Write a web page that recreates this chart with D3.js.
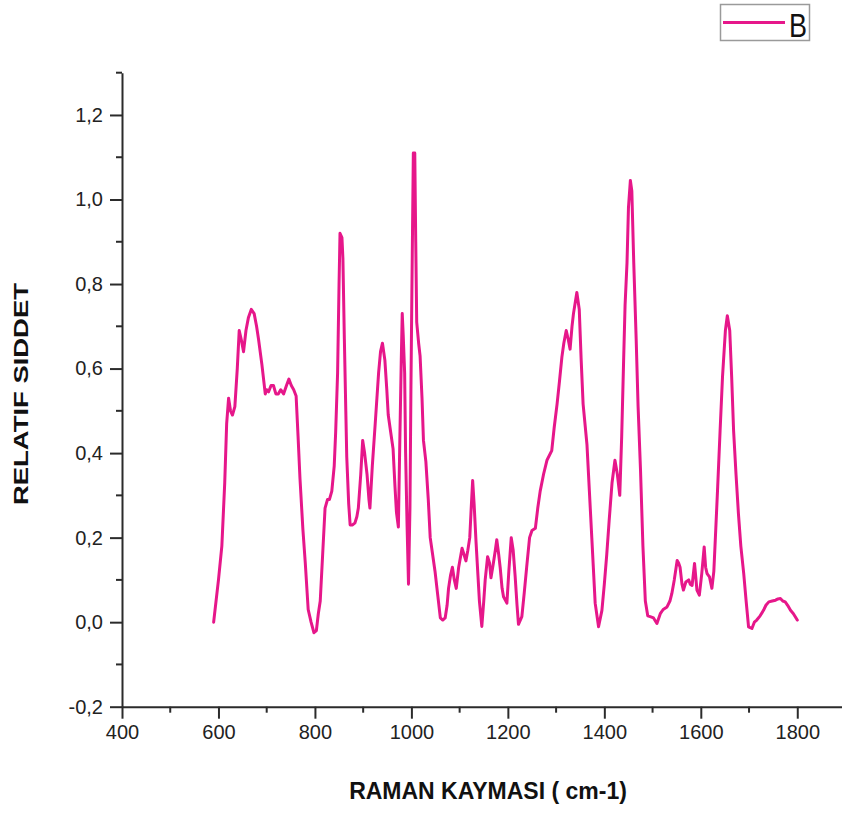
<!DOCTYPE html>
<html>
<head>
<meta charset="utf-8">
<script src="https://cdn.jsdelivr.net/npm/d3@7/dist/d3.min.js"></script>
<style>
  html, body { margin: 0; padding: 0; background: #fff; }
  svg { display: block; }
  text { font-family: Arial, "Liberation Sans", sans-serif; }
</style>
</head>
<body>
<svg id="chart" width="842" height="814"></svg>
<script>
// ---- data ----
const seriesName = "B";
const ramanShift = [
  590,600,607,613,617,621,625,629,634,639,643,647,652,657,662,668,674,679,683,690,
  697,700,704,709,714,719,724,729,735,741,746,751,756,761,765,769,775,780,786,792,
  798,803,807,811,816,821,826,830,835,840,843,847,850,852,856,858,861,864,866,870,
  873,878,883,887,890,895,899,903,908,912,914,919,925,932,936,940,945,949,952,957,
  962,966,969,973,976,979,981,983,986,988,991,994,997,999,1001,1003,1004,1007,1009,1011,
  1015,1018,1022,1025,1030,1035,1039,1044,1049,1054,1060,1065,1070,1074,1077,1081,1085,1089,1093,1098,
  1105,1109,1113,1117,1121,1124,1127,1130,1134,1138,1141,1146,1150,1153,1158,1162,1165,1170,1174,1177,
  1181,1184,1188,1191,1198,1202,1207,1211,1215,1219,1222,1229,1234,1239,1245,1250,1257,1262,1267,1274,
  1281,1291,1296,1302,1307,1312,1316,1321,1325,1329,1333,1336,1343,1348,1352,1356,1364,1369,1374,1381,
  1388,1395,1400,1405,1410,1416,1422,1427,1432,1436,1440,1443,1447,1450,1454,1457,1461,1466,1470,1475,
  1480,1485,1490,1495,1502,1509,1516,1522,1530,1536,1540,1545,1551,1554,1557,1561,1564,1569,1575,1578,
  1582,1587,1592,1597,1602,1607,1610,1613,1618,1623,1627,1630,1635,1640,1645,1651,1655,1660,1664,1668,
  1673,1678,1683,1689,1694,1699,1706,1711,1716,1723,1730,1735,1741,1748,1755,1760,1765,1770,1775,1780,
  1786,1792,1800
];
const intensity = [
  0.00,0.10,0.18,0.33,0.47,0.53,0.50,0.49,0.51,0.60,0.69,0.67,0.64,0.69,0.72,0.74,0.73,0.70,0.67,0.61,
  0.54,0.55,0.545,0.56,0.56,0.54,0.54,0.55,0.54,0.56,0.575,0.56,0.55,0.535,0.44,0.34,0.22,0.14,0.03,0.00,
  -0.025,-0.02,0.02,0.05,0.16,0.27,0.29,0.29,0.31,0.37,0.45,0.59,0.80,0.92,0.91,0.86,0.67,0.50,0.39,0.28,
  0.23,0.23,0.235,0.25,0.27,0.35,0.43,0.40,0.35,0.29,0.27,0.37,0.47,0.59,0.64,0.66,0.62,0.55,0.49,0.45,
  0.41,0.32,0.26,0.225,0.43,0.62,0.73,0.68,0.59,0.40,0.23,0.09,0.27,0.55,0.78,1.00,1.11,1.11,0.90,0.71,
  0.66,0.63,0.53,0.43,0.38,0.29,0.20,0.16,0.12,0.07,0.01,0.005,0.01,0.04,0.08,0.11,0.13,0.10,0.08,0.13,
  0.175,0.16,0.145,0.17,0.20,0.27,0.335,0.28,0.19,0.11,0.05,-0.01,0.05,0.10,0.155,0.14,0.105,0.14,0.17,0.195,
  0.16,0.13,0.08,0.06,0.045,0.12,0.20,0.17,0.11,0.04,-0.005,0.013,0.07,0.13,0.20,0.217,0.222,0.27,0.31,0.35,
  0.383,0.406,0.46,0.516,0.57,0.627,0.66,0.69,0.67,0.646,0.70,0.73,0.78,0.74,0.62,0.516,0.42,0.31,0.20,0.045,
  -0.011,0.028,0.09,0.16,0.24,0.33,0.383,0.35,0.30,0.44,0.62,0.75,0.85,0.98,1.045,1.02,0.85,0.67,0.51,0.36,
  0.18,0.05,0.015,0.013,0.01,-0.003,0.02,0.03,0.036,0.05,0.068,0.10,0.146,0.14,0.13,0.09,0.076,0.095,0.10,0.09,
  0.087,0.139,0.076,0.064,0.115,0.178,0.13,0.115,0.107,0.08,0.12,0.194,0.32,0.453,0.58,0.69,0.725,0.69,0.58,0.453,
  0.35,0.257,0.18,0.115,0.05,-0.011,-0.015,0.0,0.005,0.015,0.028,0.04,0.048,0.05,0.052,0.055,0.056,0.05,0.048,0.04,
  0.028,0.02,0.005
];
const xTickValues = [400, 600, 800, 1000, 1200, 1400, 1600, 1800];
const xMinorTicks = [500, 700, 900, 1100, 1300, 1500, 1700];
const yTickValues = [-0.2, 0.0, 0.2, 0.4, 0.6, 0.8, 1.0, 1.2];
const yTickLabels = ["-0,2", "0,0", "0,2", "0,4", "0,6", "0,8", "1,0", "1,2"];
const yMinorTicks = [-0.1, 0.1, 0.3, 0.5, 0.7, 0.9, 1.1, 1.3];
const xTitle = "RAMAN KAYMASI ( cm-1)";
const yTitle = "RELATIF SIDDET";

// ---- layout ----
const svg = d3.select("#chart");
const plotLeft = 122, plotRight = 845.5, plotTop = 72.7, plotBottom = 706.7;
const axisColor = "#2b2b2b";
const lineColor = "#e6178a";

const x = d3.scaleLinear().domain([400, 1900]).range([plotLeft, plotRight]);
const y = d3.scaleLinear().domain([-0.2, 1.3]).range([plotBottom, plotTop]);

// X axis
const gx = svg.append("g").attr("transform", `translate(0,${plotBottom})`);
gx.call(d3.axisBottom(x).tickValues(xTickValues).tickSize(12).tickSizeOuter(0).tickPadding(6)
  .tickFormat(d3.format("d")));
gx.append("g").selectAll("line").data(xMinorTicks).join("line")
  .attr("x1", d => x(d)).attr("x2", d => x(d)).attr("y1", 0).attr("y2", 6)
  .attr("stroke", axisColor).attr("stroke-width", 2);

// Y axis
const gy = svg.append("g").attr("transform", `translate(${plotLeft},0)`);
gy.call(d3.axisLeft(y).tickValues(yTickValues).tickSize(12).tickSizeOuter(0).tickPadding(7)
  .tickFormat((d, i) => yTickLabels[i]));
gy.append("g").selectAll("line").data(yMinorTicks).join("line")
  .attr("x1", 0).attr("x2", -6).attr("y1", d => y(d)).attr("y2", d => y(d))
  .attr("stroke", axisColor).attr("stroke-width", 2);

[gx, gy].forEach(g => {
  g.select(".domain").attr("stroke", axisColor).attr("stroke-width", 2);
  g.selectAll(".tick line").attr("stroke", axisColor).attr("stroke-width", 2);
  g.selectAll(".tick text").attr("fill", "#222").style("font-size", "20px")
    .style("font-family", "Arial, 'Liberation Sans', sans-serif");
});
gx.selectAll(".tick text").attr("dy", "0.72em");

// line
const pts = ramanShift.map((v, i) => [v, intensity[i]]);
svg.append("path")
  .datum(pts)
  .attr("fill", "none")
  .attr("stroke", lineColor)
  .attr("stroke-width", 3)
  .attr("stroke-linejoin", "round")
  .attr("stroke-linecap", "round")
  .attr("d", d3.line().x(d => x(d[0])).y(d => y(d[1])));

// axis titles
svg.append("text")
  .attr("x", 488).attr("y", 799)
  .attr("text-anchor", "middle")
  .attr("font-weight", "bold")
  .attr("font-size", 23)
  .attr("fill", "#111")
  .text(xTitle);

svg.append("text")
  .attr("transform", "translate(28,394) rotate(-90)")
  .attr("text-anchor", "middle")
  .attr("font-weight", "bold")
  .attr("font-size", 20)
  .attr("fill", "#111")
  .attr("textLength", 222)
  .attr("lengthAdjust", "spacingAndGlyphs")
  .text(yTitle);

// legend
const lg = svg.append("g");
lg.append("rect")
  .attr("x", 720.5).attr("y", 4.5).attr("width", 89).attr("height", 36)
  .attr("fill", "#fff").attr("stroke", "#9a9a9a").attr("stroke-width", 1.5);
lg.append("line")
  .attr("x1", 723).attr("x2", 785).attr("y1", 22.5).attr("y2", 22.5)
  .attr("stroke", lineColor).attr("stroke-width", 3);
lg.append("text")
  .attr("x", 789).attr("y", 37)
  .attr("font-size", 33)
  .attr("fill", "#111")
  .attr("textLength", 18)
  .attr("lengthAdjust", "spacingAndGlyphs")
  .text(seriesName);
</script>
</body>
</html>
